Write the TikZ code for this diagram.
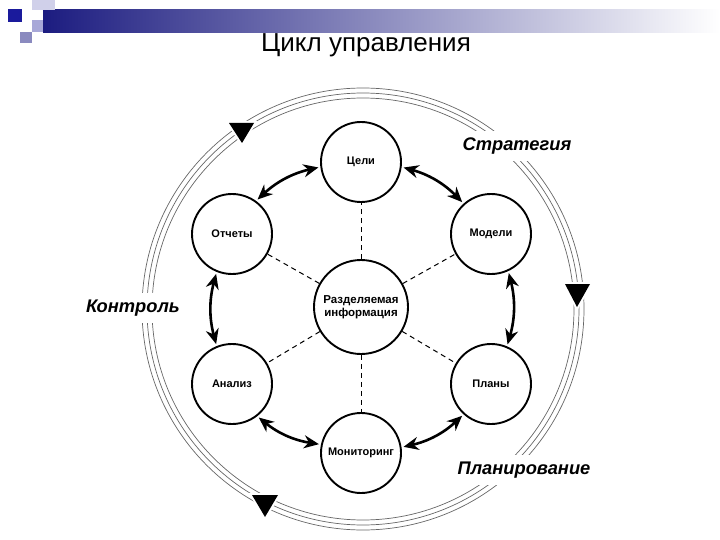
\documentclass[tikz,border=0pt]{standalone}
\usepackage{fontspec}
\setmainfont{Liberation Sans}
\usetikzlibrary{arrows.meta}
\definecolor{hdrdark}{HTML}{1C1C80}
\definecolor{sqdark}{HTML}{1A1A9C}
\definecolor{sqa}{HTML}{D0D0EA}
\definecolor{sqb}{HTML}{A8A8D8}
\definecolor{sqc}{HTML}{8A8ABF}
\begin{document}
\begin{tikzpicture}[x=1pt,y=-1pt]
\tikzset{
  stage/.style={circle, draw, line width=1.9pt, minimum size=80pt, inner sep=0pt, fill=white,
    font=\fontsize{11}{12.5}\selectfont\bfseries, align=center},
  hub/.style={stage, minimum size=94pt, font=\fontsize{11.5}{13.5}\selectfont\bfseries},
  link/.style={line width=1pt, dash pattern=on 5pt off 4pt},
  flow/.style={line width=2.6pt, {Stealth[length=15pt,width=13pt]}-{Stealth[length=15pt,width=13pt]},
    shorten >=2pt, shorten <=2pt},
  ring/.style={draw=black!60, line width=0.7pt},
  phase/.style={font=\fontsize{18.3}{22}\selectfont\bfseries\itshape, fill=white, inner sep=7pt},
  marker/.style={fill=black, draw=white, line width=4pt, line join=miter},
  markerfill/.style={fill=black}
}
\useasboundingbox (0,0) rectangle (720,540);
% header decoration
\shade[left color=hdrdark, right color=white] (43,10) rectangle (720,33);
\fill[sqa] (32,0) rectangle (55,10);
\fill[sqb] (32,20) rectangle (43,32);
\fill[sqc] (20,32) rectangle (32,43);
\fill[sqdark] (8,9) rectangle (22,22);
\node (title) at (366,45) {\fontsize{26}{30}\selectfont Цикл управления};
% outer ring
\foreach \r in {211,216,221} \draw[ring] (363,309) circle (\r pt);
% phase labels
\node[phase] (strat) at (517,146) {Стратегия};
\node[phase] (kontr) at (133,308) {Контроль};
\node[phase] (plann) at (524,470) {Планирование};
% markers
\draw[marker] (229,123) -- (254,123) -- (242,143) -- cycle;
\fill[markerfill] (229,123) -- (254,123) -- (242,143) -- cycle;
\draw[marker] (565,284) -- (590,284) -- (577,307) -- cycle;
\fill[markerfill] (565,284) -- (590,284) -- (577,307) -- cycle;
\draw[marker] (252,495) -- (278,495) -- (265,517) -- cycle;
\fill[markerfill] (252,495) -- (278,495) -- (265,517) -- cycle;
% nodes
\node[hub] (hub) at (361,307) {Разделяемая\\информация};
\node[stage] (cel) at (361,162) {Цели};
\node[stage] (otch) at (232,234) {Отчеты};
\node[stage] (mod) at (491,234) {Модели};
\node[stage] (anal) at (232,384) {Анализ};
\node[stage] (plan) at (491,384) {Планы};
\node[stage] (mon) at (361,453) {Мониторинг};
% dashed spokes
\foreach \n in {cel,otch,mod,anal,plan,mon} \draw[link] (hub) -- (\n);
% curved arrows
\draw[flow] (cel.187) to[bend right=15] (otch.54);
\draw[flow] (otch.-112) to[bend right=15] (anal.112);
\draw[flow] (anal.-52) to[bend right=15] (mon.168);
\draw[flow] (mon.8) to[bend right=15] (plan.-132);
\draw[flow] (plan.67) to[bend right=15] (mod.-65);
\draw[flow] (mod.132) to[bend right=15] (cel.-7);
\end{tikzpicture}
\end{document}
